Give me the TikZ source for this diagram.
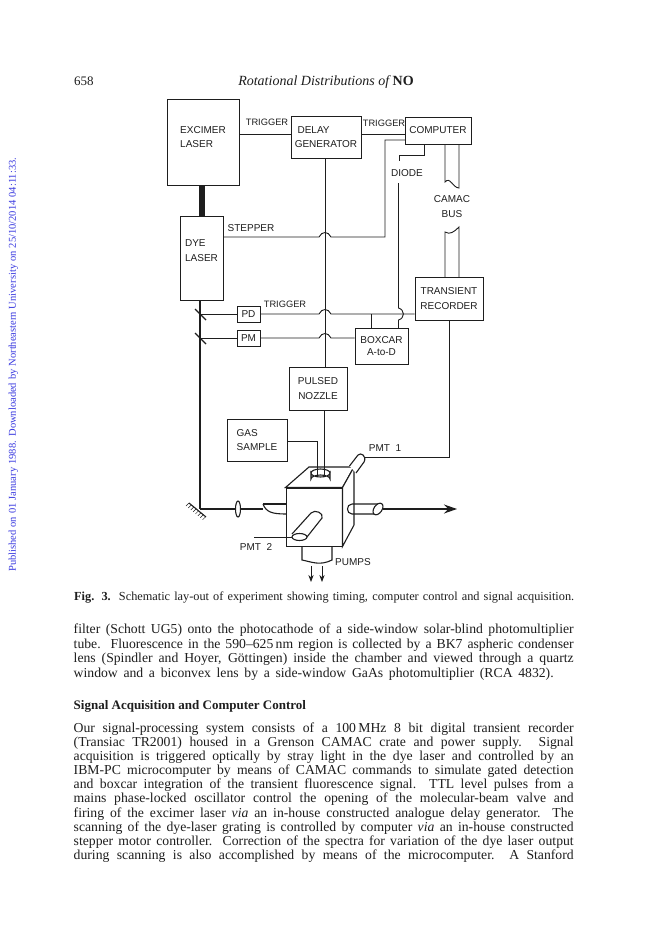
\documentclass[tikz,border=0pt]{standalone}
\usepackage{fontspec}
\setmainfont{Liberation Serif}
\newfontfamily\lblfont{Liberation Sans}
\usetikzlibrary{arrows.meta}
\definecolor{ink}{HTML}{1E1E1E}
\definecolor{wm}{HTML}{3A3AE0}
\tikzset{
  box/.style={draw=ink,line width=1pt,fill=white,inner sep=0pt,font=\lblfont\fontsize{10}{14.5}\selectfont,text=ink,align=left},
  lbl/.style={font=\lblfont\fontsize{10}{14.5}\selectfont,text=ink,inner sep=0pt,align=left},
  trig/.style={lbl,font=\lblfont\fontsize{9.3}{14.5}\selectfont},
  wire/.style={draw=ink,line width=.9pt},
  heavy/.style={draw=ink,line width=1.1pt},
  bodyline/.style={anchor=base west,inner sep=0pt,font=\fontsize{13.7}{15}\selectfont,text=ink},
  tip/.style={-{Stealth[length=#1]}}
}
\newcommand{\bline}[3]{\node[bodyline] (#1) at (73.5,#2) {\makebox[500pt][s]{#3}};}
\begin{document}
\begin{tikzpicture}[x=1pt,y=-1pt]
\useasboundingbox (0,0) rectangle (648,935);
\fill[white] (0,0) rectangle (648,935);

% header
\node[anchor=base west,inner sep=0pt,font=\fontsize{13}{15}\selectfont,text=ink] (pageno) at (74,85) {658};
\node[anchor=base,inner sep=0pt,font=\itshape\fontsize{14}{16}\selectfont,text=ink] (runhead) at (326,85) {Rotational Distributions of \textbf{\upshape NO}};

% watermark
\node[rotate=90,anchor=base west,inner sep=0pt,font=\fontsize{10.5}{12}\selectfont,text=wm] (stamp) at (16,572) {\makebox[414pt][s]{Published on 01 January 1988. Downloaded by Northeastern University on 25/10/2014 04:11:33.}};

% boxes
\node[box,minimum width=72pt,minimum height=86pt] (excimer) at (203,142) {};
\node[lbl] (excimerT) at (203,137) {EXCIMER\\LASER};
\node[box,minimum width=70pt,minimum height=42pt] (delay) at (326,137) {\ DELAY\\GENERATOR};
\node[box,minimum width=66pt,minimum height=27pt] (computer) at (438,130.5) {COMPUTER};
\node[box,minimum width=43pt,minimum height=84pt] (dye) at (201.5,258) {};
\node[lbl] (dyeT) at (201.5,250.5) {DYE\\LASER};
\node[box,minimum width=23pt,minimum height=16pt] (pd) at (248.5,314) {PD};
\node[box,minimum width=23pt,minimum height=16pt] (pm) at (248.5,338) {PM};
\node[box,minimum width=68pt,minimum height=43pt,align=center] (tr) at (449,298.5) {TRANSIENT\\RECORDER};
\node[box,minimum width=53pt,minimum height=36pt,align=center] (boxcar) at (381.5,346) {BOXCAR\\[-2pt]A-to-D};
\node[box,minimum width=58pt,minimum height=43pt,align=center] (nozzle) at (318,388.5) {PULSED\\NOZZLE};
\node[box,minimum width=60pt,minimum height=42pt] (gas) at (257,440) {GAS\\SAMPLE};

% beams and couplers
\fill[ink] (199,185) rectangle (205,216);
\coordinate (mirrorB) at (200,509);
\draw[heavy] (200,300) -- (mirrorB);
\draw[heavy] (195,309) -- (206,320);
\draw[heavy] (195,333) -- (206,344);

% labels
\node[trig] (t1) at (267,122) {TRIGGER};
\node[trig] (t2) at (384,123) {TRIGGER};
\node[trig] (t3) at (285,304) {TRIGGER};
\node[lbl] (stepT) at (251,228) {STEPPER};
\node[lbl] (diodeT) at (407,173) {DIODE};
\node[lbl,align=center] (camacT) at (452,206.5) {CAMAC\\BUS};

% wires
\draw[wire] (excimer.east |- 0,134) -- (delay.west |- 0,134);
\draw[wire] (delay.east |- 0,134) -- (computer.west |- 0,134);
\draw[wire] (delay.south -| 325,0) -- (nozzle.north -| 325,0);

\coordinate (stepA) at (223,237);
\coordinate (stepB) at (385,237);
\coordinate (compS) at (405,140);
\draw[wire] (stepA) -- (319,237) .. controls (322,231) and (328,231) .. (331,237) -- (stepB) -- (385,140) -- (compS);

\coordinate (diodeA) at (424,144);
\coordinate (diodeB) at (424,155);
\coordinate (diodeC) at (399,155);
\coordinate (diodeD) at (399,161);
\draw[wire] (diodeA) -- (diodeB) -- (diodeC) -- (diodeD);
\coordinate (diodeE) at (398.5,183);
\coordinate (diodeF) at (398.5,328);
\draw[wire] (diodeE) -- (398.5,308) .. controls (405,310) and (405,318) .. (398.5,320) -- (diodeF);

% camac bus
\draw[wire] (445,144) -- (445,182) .. controls (450,176) and (453,188) .. (459,188) -- (459,144);
\draw[wire] (445,277) -- (445,232) .. controls (450,235) and (454,232) .. (459,227) -- (459,277);

% PD, PM lines
\draw[wire] (200,314) -- (pd.west);
\draw[wire] (200,338) -- (pm.west);
\draw[wire] (pd.east) -- (319,314) .. controls (322,308) and (328,308) .. (331,314) -- (tr.west |- 0,314);
\draw[wire] (371,314) -- (371,328);
\draw[wire] (pm.east) -- (319,338) .. controls (322,332) and (328,332) .. (331,338) -- (boxcar.west |- 0,338);

% TR to PMT1
\coordinate (pmtA) at (365,457);
\draw[wire] (449,320) -- (449,457) -- (pmtA);

% pulsed nozzle, gas
\draw[wire] (324,410) -- (324,473);
\draw[wire] (gas.east |- 0,441) -- (317,441) -- (317,473);

% pumps
\draw[heavy] (302,546) -- (302,560) .. controls (312,562) and (320,566) .. (332,560) -- (332,546);
\draw[wire,tip=7pt] (311,566) -- (311,582);
\draw[wire,tip=7pt] (322,566) -- (322,582);

% cube
\node[box,minimum width=56pt,minimum height=58pt] (cube) at (314,517) {};
\filldraw[heavy,fill=white] (cube.north west) -- (309,467) -- (354,467) -- (cube.north east) -- cycle;
\filldraw[heavy,fill=white] (cube.north east) -- (354,467) -- (354,525) -- (cube.south east) -- cycle;

% flange
\filldraw[heavy,fill=white] (311,473) -- (311,479) arc[start angle=180,end angle=360,x radius=9.5,y radius=4] -- (330,473) arc[start angle=0,end angle=180,x radius=9.5,y radius=4] -- cycle;
\draw[heavy] (311,473) arc[start angle=180,end angle=360,x radius=9.5,y radius=4];
\draw[wire] (317,460) -- (317,476);
\draw[wire] (324,460) -- (324,476);

% PMT1
\filldraw[heavy,fill=white] (349.5,466) -- (358,455) .. controls (361,452) and (367,456) .. (364,462) -- (356,473);

% PMT2
\filldraw[heavy,fill=white] (292,534) -- (311,513) .. controls (315,509) and (324,513) .. (322,518) -- (307,537);
\draw[heavy,fill=white] (299.5,537) ellipse[x radius=7.5,y radius=3.5];
\coordinate (pmtB) at (254,537);
\draw[wire] (pmtB) -- (292,537);
\node[lbl] (pmt1T) at (385,448) {PMT\ \ 1};
\node[lbl] (pmt2T) at (256,547) {PMT\ \ 2};
\node[lbl] (pumpsT) at (353,562) {PUMPS};

% optical path bottom
\draw[heavy] (189,503) -- (206,517);
\foreach \s in {0,.14,...,.98} {\draw[ink,line width=.5pt] (189+17*\s,503+14*\s) -- +(-3,3);}
\draw[heavy] (mirrorB) -- (263,509);
\draw[heavy,fill=white] (238,509) ellipse[x radius=2.5,y radius=8];
\draw[heavy] (263,504) -- (286,504);
\draw[heavy] (263,504) .. controls (266,512) and (272,514) .. (286,514);

% exit arm
\draw[heavy] (378,504) -- (352,504) .. controls (346,504) and (346,514) .. (352,514) -- (376,514);
\draw[heavy,fill=white] (378,509) ellipse[x radius=4,y radius=6.5,rotate=-35];
\coordinate (exitA) at (383,509);
\coordinate (exitB) at (457,509);
\draw[heavy,-{Stealth[length=13pt,width=9pt]}] (exitA) -- (exitB);

% caption
\node[anchor=base west,inner sep=0pt,font=\fontsize{12.3}{14}\selectfont,text=ink] (caption) at (74,600) {\makebox[500pt][s]{\textbf{Fig. 3.}\ \ Schematic lay-out of experiment showing timing, computer control and signal acquisition.}};

% body
\bline{b1}{633.5}{filter (Schott UG5) onto the photocathode of a side-window solar-blind photomultiplier}
\bline{b2}{648}{tube.\ \ Fluorescence in the 590--625\,nm region is collected by a BK7 aspheric condenser}
\bline{b3}{662.5}{lens (Spindler and Hoyer, Göttingen) inside the chamber and viewed through a quartz}
\node[bodyline] (b4) at (73.5,677) {\makebox[480pt][s]{window and a biconvex lens by a side-window GaAs photomultiplier (RCA 4832).}};
\node[bodyline,font=\bfseries\fontsize{13}{15}\selectfont] (sec) at (73.5,709) {Signal Acquisition and Computer Control};
\bline{c1}{732}{Our signal-processing system consists of a 100\,MHz 8 bit digital transient recorder}
\bline{c2}{746}{(Transiac TR2001) housed in a Grenson CAMAC crate and power supply. Signal}
\bline{c3}{760}{acquisition is triggered optically by stray light in the dye laser and controlled by an}
\bline{c4}{774}{IBM-PC microcomputer by means of CAMAC commands to simulate gated detection}
\bline{c5}{788.5}{and boxcar integration of the transient fluorescence signal.\ \ TTL level pulses from a}
\bline{c6}{802.5}{mains phase-locked oscillator control the opening of the molecular-beam valve and}
\bline{c7}{817}{firing of the excimer laser \textit{via} an in-house constructed analogue delay generator.\ \ The}
\bline{c8}{831}{scanning of the dye-laser grating is controlled by computer \textit{via} an in-house constructed}
\bline{c9}{845}{stepper motor controller.\ \ Correction of the spectra for variation of the dye laser output}
\bline{c10}{859}{during scanning is also accomplished by means of the microcomputer.\ \ A Stanford}
\end{tikzpicture}
\end{document}
